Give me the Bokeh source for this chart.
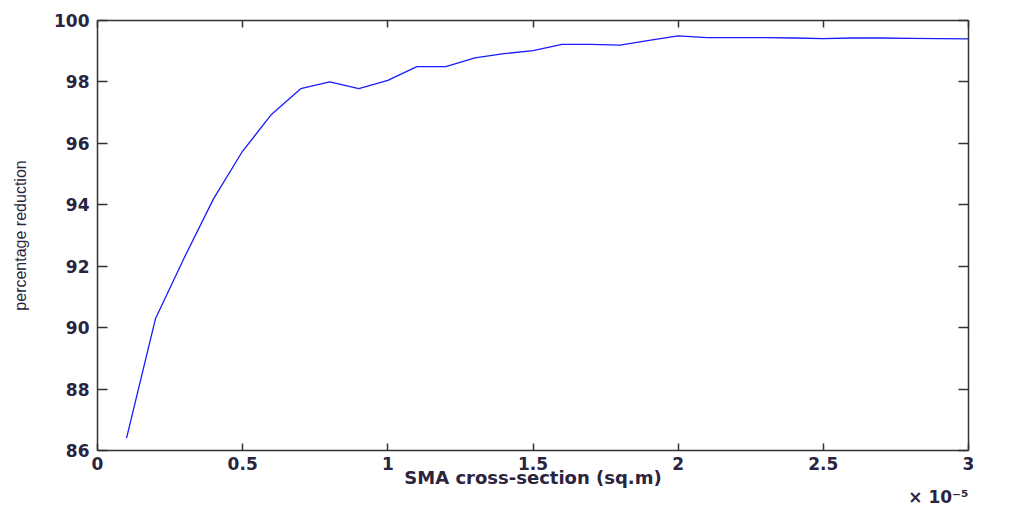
from bokeh.plotting import figure
from bokeh.models import Range1d, LinearAxis, FixedTicker, Title
from bokeh.embed import file_html
from bokeh.resources import INLINE

# data (x in units of 1e-5 sq.m)
sma_area_e5 = [0.1, 0.2, 0.3, 0.4, 0.5, 0.6, 0.7, 0.8, 0.9, 1.0,
               1.1, 1.2, 1.3, 1.4, 1.5, 1.6, 1.7, 1.8, 1.9, 2.0,
               2.1, 2.2, 2.3, 2.4, 2.5, 2.6, 2.7, 2.8, 2.9, 3.0]
pct_reduction = [86.4, 90.3, 92.3, 94.2, 95.75, 96.95, 97.78, 98.0, 97.78, 98.05,
                 98.5, 98.5, 98.78, 98.92, 99.02, 99.22, 99.22, 99.2, 99.35, 99.5,
                 99.44, 99.44, 99.44, 99.43, 99.41, 99.43, 99.43, 99.42, 99.41, 99.4]
x_ticks = [0, 0.5, 1, 1.5, 2, 2.5, 3]
x_tick_labels = ["0", "0.5", "1", "1.5", "2", "2.5", "3"]
y_ticks = [86, 88, 90, 92, 94, 96, 98, 100]
y_tick_labels = ["86", "88", "90", "92", "94", "96", "98", "100"]
x_label = "SMA cross-section (sq.m)"
y_label = "percentage reduction"
x_exponent = "\u00d7 10\u207b\u2075"

AX = "#333333"
TXT = "#2a2440"
TICKFONT = "DejaVu Sans"

p = figure(frame_width=871, frame_height=430,
           x_range=Range1d(0, 3), y_range=Range1d(86, 100),
           output_backend="svg", toolbar_location=None,
           min_border_left=97, min_border_top=20, min_border_right=50, min_border_bottom=59,
           x_axis_location=None, y_axis_location=None)
p.grid.visible = False
p.outline_line_color = None
p.background_fill_color = "white"
p.border_fill_color = "white"

def style(ax, ticks, labels, tick_in, show_labels):
    ax.ticker = FixedTicker(ticks=ticks)
    ax.major_label_overrides = {t: l for t, l in zip(ticks, labels)}
    ax.axis_line_color = AX
    ax.axis_line_width = 1.5
    ax.major_tick_line_color = AX
    ax.major_tick_line_width = 1.5
    ax.major_tick_in = tick_in
    ax.major_tick_out = 0
    ax.minor_tick_line_color = None
    if show_labels:
        ax.major_label_text_font = TICKFONT
        ax.major_label_text_font_style = "bold"
        ax.major_label_text_font_size = "17px"
        ax.major_label_text_color = TXT
    else:
        ax.major_label_text_font_size = "1px"
        ax.major_label_text_color = None
        ax.major_label_standoff = 0

bottom = LinearAxis()
style(bottom, x_ticks, x_tick_labels, 7, True)
bottom.major_label_standoff = 6
bottom.axis_label = x_label
bottom.axis_label_text_font = "DejaVu Sans"
bottom.axis_label_text_font_style = "bold"
bottom.axis_label_text_font_size = "18px"
bottom.axis_label_text_color = TXT
bottom.axis_label_standoff = -6
p.add_layout(bottom, "below")

left = LinearAxis()
style(left, y_ticks, y_tick_labels, 10, True)
left.major_label_standoff = 8
left.axis_label = y_label
left.axis_label_text_font = "Liberation Sans"
left.axis_label_text_font_style = "normal"
left.axis_label_text_font_size = "16px"
left.axis_label_text_color = TXT
left.axis_label_standoff = 22
p.add_layout(left, "left")

top = LinearAxis()
style(top, x_ticks, x_tick_labels, 7, False)
p.add_layout(top, "above")

right = LinearAxis()
style(right, y_ticks, y_tick_labels, 10, False)
p.add_layout(right, "right")

p.line(sma_area_e5, pct_reduction, line_color="#1a1aff", line_width=1.3)

exp_title = Title(text=x_exponent, align="right", standoff=-12,
                  text_font=TICKFONT, text_font_style="bold",
                  text_font_size="17px", text_color=TXT)
p.add_layout(exp_title, "below")

open("out.html", "w").write(file_html(p, INLINE))
